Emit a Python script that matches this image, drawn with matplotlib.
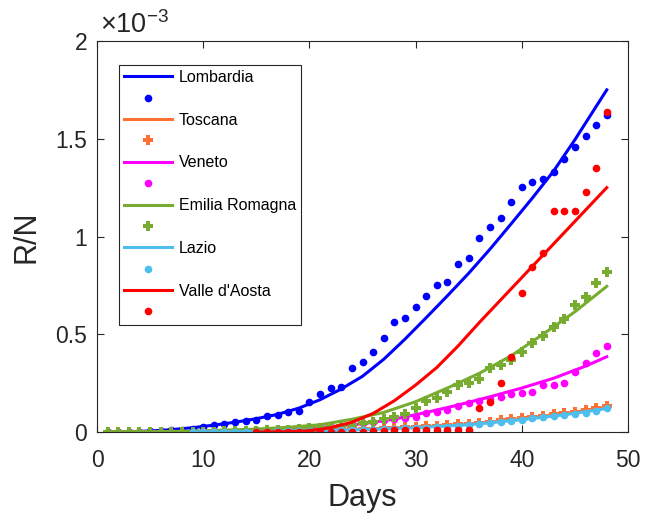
import matplotlib
matplotlib.use('Agg')
import matplotlib.pyplot as plt

plt.rcParams['font.family'] = ['Liberation Sans', 'DejaVu Sans']
plt.rcParams['mathtext.fontset'] = 'custom'
plt.rcParams['mathtext.rm'] = 'Liberation Sans'

# all R/N values below are in units of 1e-3
regions = ['Lombardia', 'Toscana', 'Veneto', 'Emilia Romagna', 'Lazio', "Valle d'Aosta"]
colors = ['#0000FF', '#FF7132', '#FF00FF', '#77AC30', '#4DBEEE', '#FF0000']
markers = ['o', '*', 'o', '*', 'o', 'o']

# observed data
days_all = list(range(1, 49))
days_lazio = list(range(9, 49))
days_valle = list(range(15, 49))

lombardia_obs = [0.0, 0.0, 0.001, 0.002, 0.003, 0.005, 0.008, 0.011, 0.016, 0.024,
                 0.036, 0.041, 0.050, 0.054, 0.060, 0.082, 0.088, 0.100, 0.108, 0.153,
                 0.192, 0.226, 0.232, 0.329, 0.358, 0.409, 0.481, 0.563, 0.581, 0.638,
                 0.697, 0.752, 0.768, 0.858, 0.888, 0.990, 1.047, 1.096, 1.176, 1.252,
                 1.277, 1.293, 1.332, 1.396, 1.456, 1.513, 1.569, 1.620]
toscana_obs = [0.0, 0.0, 0.0, 0.0, 0.0, 0.0, 0.0, 0.0, 0.001, 0.001,
               0.001, 0.002, 0.002, 0.003, 0.003, 0.004, 0.005, 0.006, 0.007, 0.008,
               0.009, 0.010, 0.011, 0.013, 0.014, 0.016, 0.018, 0.021, 0.024, 0.027,
               0.030, 0.033, 0.036, 0.039, 0.043, 0.048, 0.053, 0.060, 0.066, 0.073,
               0.078, 0.084, 0.090, 0.097, 0.104, 0.112, 0.122, 0.134]
veneto_obs = [0.0, 0.0, 0.0, 0.0, 0.0, 0.001, 0.001, 0.002, 0.002, 0.003,
              0.004, 0.005, 0.006, 0.007, 0.008, 0.009, 0.010, 0.012, 0.014, 0.016,
              0.019, 0.027, 0.032, 0.039, 0.044, 0.053, 0.061, 0.066, 0.073, 0.078,
              0.095, 0.104, 0.112, 0.135, 0.147, 0.160, 0.170, 0.181, 0.194, 0.201,
              0.206, 0.240, 0.240, 0.252, 0.305, 0.354, 0.402, 0.440]
emilia_obs = [0.0, 0.0, 0.0, 0.0, 0.0, 0.0, 0.0, 0.001, 0.001, 0.002,
              0.002, 0.003, 0.004, 0.005, 0.006, 0.008, 0.010, 0.012, 0.015, 0.018,
              0.022, 0.027, 0.032, 0.036, 0.044, 0.053, 0.066, 0.078, 0.092, 0.121,
              0.160, 0.172, 0.206, 0.240, 0.252, 0.270, 0.326, 0.343, 0.370, 0.411,
              0.454, 0.493, 0.535, 0.576, 0.648, 0.692, 0.760, 0.817]
lazio_obs = [0.0, 0.0, 0.0, 0.001, 0.001, 0.001, 0.002, 0.002, 0.003, 0.003,
             0.004, 0.005, 0.006, 0.007, 0.008, 0.009, 0.010, 0.012, 0.014, 0.016,
             0.018, 0.020, 0.022, 0.025, 0.028, 0.032, 0.036, 0.041, 0.044, 0.053,
             0.058, 0.061, 0.070, 0.075, 0.082, 0.087, 0.092, 0.099, 0.109, 0.121]
valle_obs = [0.0, 0.0, 0.0, 0.0, 0.0, 0.0, 0.0, 0.0, 0.0, 0.0,
             0.002, 0.003, 0.004, 0.008, 0.009, 0.010, 0.010, 0.011, 0.011, 0.012,
             0.012, 0.124, 0.152, 0.249, 0.385, 0.709, 0.842, 0.914, 1.130, 1.130,
             1.130, 1.226, 1.352, 1.635]

lombardia_fit_d = [1, 3, 5, 7, 9, 11, 13, 15, 17, 19, 21, 23, 25, 27, 29, 31, 33,
                   35, 37, 39, 41, 43, 45, 47, 48]
lombardia_fit = [0.0, 0.002, 0.005, 0.012, 0.022, 0.035, 0.05, 0.068, 0.09, 0.122,
                 0.165, 0.22, 0.285, 0.372, 0.475, 0.585, 0.697, 0.812, 0.935,
                 1.065, 1.197, 1.335, 1.495, 1.665, 1.75]
toscana_fit_d = [1, 10, 15, 20, 25, 30, 35, 40, 44, 48]
toscana_fit = [0.0, 0.001, 0.003, 0.007, 0.013, 0.024, 0.04, 0.067, 0.094, 0.127]
veneto_fit_d = [1, 5, 10, 15, 20, 25, 28, 31, 34, 37, 40, 43, 46, 48]
veneto_fit = [0.0, 0.001, 0.003, 0.008, 0.018, 0.042, 0.066, 0.1, 0.138, 0.18,
              0.225, 0.275, 0.337, 0.385]
emilia_fit_d = [1, 5, 10, 15, 18, 21, 24, 27, 30, 33, 36, 39, 42, 45, 48]
emilia_fit = [0.0, 0.001, 0.006, 0.015, 0.024, 0.037, 0.065, 0.1, 0.155, 0.225,
              0.3, 0.39, 0.5, 0.615, 0.745]
lazio_fit_d = [9, 15, 20, 25, 30, 35, 40, 44, 48]
lazio_fit = [0.0, 0.002, 0.006, 0.012, 0.022, 0.037, 0.063, 0.088, 0.12]
valle_fit_d = [15, 18, 20, 22, 24, 26, 28, 30, 32, 34, 36, 38, 40, 42, 44, 46, 48]
valle_fit = [0.0, 0.001, 0.006, 0.022, 0.05, 0.095, 0.16, 0.24, 0.33, 0.44,
             0.56, 0.675, 0.79, 0.905, 1.02, 1.135, 1.25]

obs = [(days_all, lombardia_obs), (days_all, toscana_obs), (days_all, veneto_obs),
       (days_all, emilia_obs), (days_lazio, lazio_obs), (days_valle, valle_obs)]
fits = [(lombardia_fit_d, lombardia_fit), (toscana_fit_d, toscana_fit),
        (veneto_fit_d, veneto_fit), (emilia_fit_d, emilia_fit),
        (lazio_fit_d, lazio_fit), (valle_fit_d, valle_fit)]

fig = plt.figure(figsize=(6.45, 5.21), dpi=100)
ax = fig.add_axes([97 / 645, 89 / 521, 531 / 645, 391 / 521])

handles, labels = [], []
for name, col, mk, (fd, fv), (od, ov) in zip(regions, colors, markers, fits, obs):
    ln, = ax.plot(fd, fv, '-', color=col, lw=2.2)
    if mk == 'o':
        pt, = ax.plot(od, ov, 'o', color=col, ms=5.5, mew=0, ls='none')
    else:
        # thick plus, close to how MATLAB's '*' looks at this size
        pt, = ax.plot(od, ov, 'P', color=col, ms=6.5, mew=0, ls='none')
    handles += [ln, pt]
    labels += [name, '']

ax.set_xlim(0, 50)
ax.set_ylim(0, 2)
ax.set_xticks([0, 10, 20, 30, 40, 50])
ax.set_yticks([0, 0.5, 1, 1.5, 2])
ax.set_yticklabels(['0', '0.5', '1', '1.5', '2'])

gray = '#262626'
for sp in ax.spines.values():
    sp.set_color(gray)
    sp.set_linewidth(0.8)
ax.tick_params(direction='in', length=5, width=0.8, colors=gray,
               labelsize=16.5, top=True, right=True, pad=7)
ax.tick_params(axis='x', pad=12)
ax.set_xlabel('Days', fontsize=22, color=gray, labelpad=8)
ax.set_ylabel('R/N', fontsize=22, color=gray, labelpad=10)
ax.text(0.005, 1.005, r'$\mathregular{\times10^{-3}}$', transform=ax.transAxes,
        fontsize=19.5, color=gray, ha='left', va='bottom')

leg = ax.legend(handles, labels, loc='upper left',
                bbox_to_anchor=(22 / 531, 1 - 24 / 391), fontsize=11.5,
                handlelength=3.0, handletextpad=0.45, labelspacing=0.4,
                borderpad=0.3, borderaxespad=0, fancybox=False,
                framealpha=1, edgecolor='#262626')
leg.get_frame().set_linewidth(0.8)

fig.savefig('out.png', dpi=100)
